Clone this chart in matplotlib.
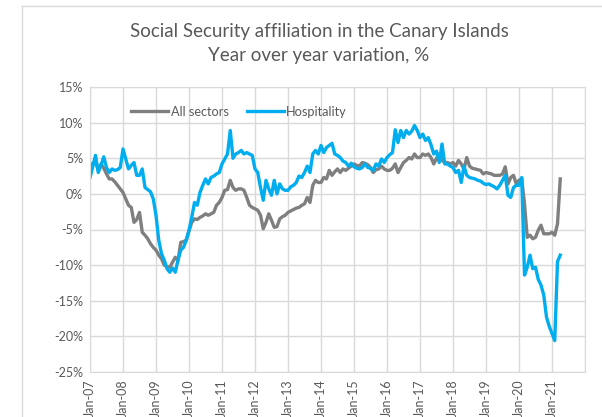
import matplotlib.pyplot as plt
from matplotlib.lines import Line2D
import numpy as np

# monthly year-over-year variation, %, Jan-07 .. Apr-21
all_sectors = [
    3.8, 4.3, 4.6, 3.3, 4.2, 3.6, 2.8, 2.1, 2.1, 1.7, 1.2, 0.7,          # 2007
    0.2, -0.7, -1.6, -1.9, -4.0, -3.6, -2.6, -5.4, -5.8, -6.3, -7.0, -7.5,  # 2008
    -7.9, -8.6, -9.1, -10.0, -10.2, -10.3, -9.6, -8.9, -9.4, -6.8, -6.7, -6.5,  # 2009
    -5.2, -4.0, -3.5, -3.6, -3.3, -3.1, -2.8, -3.0, -2.8, -2.6, -1.6, -1.2,  # 2010
    -0.5, 0.5, 0.6, 1.9, 0.9, 0.5, 0.7, 0.7, 0.5, -0.5, -1.6, -1.9,      # 2011
    -2.1, -2.3, -3.0, -4.9, -4.0, -2.8, -3.7, -4.7, -4.6, -3.5, -3.2, -3.0,  # 2012
    -2.6, -2.4, -2.2, -2.0, -1.9, -1.6, -1.4, -0.5, -1.2, 1.2, 1.9, 1.6,  # 2013
    1.6, 2.3, 2.1, 3.3, 2.6, 3.1, 3.5, 3.0, 3.5, 3.3, 3.6, 3.9,          # 2014
    4.2, 4.0, 3.9, 4.4, 4.3, 4.1, 3.7, 3.0, 3.4, 3.5, 3.9, 3.5,          # 2015
    3.3, 3.3, 3.6, 4.2, 3.0, 3.7, 4.4, 4.7, 5.1, 4.9, 5.6, 5.1,          # 2016
    5.1, 5.6, 5.4, 5.6, 5.1, 4.2, 5.0, 5.6, 4.7, 4.4, 4.4, 4.2,          # 2017
    4.4, 3.9, 4.7, 4.2, 3.5, 5.1, 3.9, 3.6, 3.5, 3.4, 3.3, 2.8,          # 2018
    3.0, 2.9, 2.8, 2.6, 2.6, 2.6, 2.8, 3.8, 1.4, 2.3, 2.6, 1.4,          # 2019
    1.9, 2.1, -1.4, -6.1, -5.8, -6.3, -6.1, -5.1, -4.4, -5.6, -5.6, -5.6,  # 2020
    -5.4, -5.8, -4.2, 2.1,                                                # 2021
]

hospitality = [
    2.3, 3.8, 5.4, 3.0, 4.0, 5.2, 3.7, 3.0, 3.5, 3.3, 3.4, 3.7,          # 2007
    6.3, 4.9, 3.5, 4.0, 4.4, 2.6, 2.6, 3.5, 0.9, 0.6, 0.3, -0.7,         # 2008
    -3.0, -6.5, -8.4, -9.3, -10.5, -11.0, -10.4, -11.0, -9.3, -7.9, -7.5, -6.5,  # 2009
    -5.1, -3.3, -1.2, -1.6, 0.2, 1.2, 2.1, 1.4, 2.3, 2.5, 2.8, 3.0,      # 2010
    4.2, 4.9, 5.6, 8.9, 5.0, 5.6, 5.8, 6.1, 5.6, 5.8, 5.6, 5.4,          # 2011
    3.5, 3.0, 0.9, -0.9, 1.9, 0.7, -0.2, 1.9, 0.0, 1.4, 0.7, 0.5,        # 2012
    0.5, 1.0, 1.2, 1.6, 2.5, 2.3, 3.0, 3.9, 3.0, 5.6, 6.1, 5.6,          # 2013
    6.8, 5.8, 6.5, 6.8, 7.1, 5.6, 5.4, 5.1, 4.6, 4.4, 3.9, 4.3,          # 2014
    3.8, 3.6, 3.5, 3.7, 4.2, 3.7, 3.6, 3.3, 4.2, 3.9, 4.9, 4.4,          # 2015
    5.1, 5.5, 5.8, 9.0, 7.2, 8.9, 7.9, 8.9, 8.4, 8.8, 9.6, 8.9,          # 2016
    7.9, 8.4, 7.5, 7.9, 6.9, 5.6, 6.0, 4.4, 7.0, 4.2, 4.2, 3.9,          # 2017
    3.7, 3.0, 3.3, 1.6, 3.9, 2.6, 2.3, 2.2, 2.1, 1.9, 1.8, 1.5,          # 2018
    1.3, 1.4, 1.2, 1.0, 0.7, 1.2, 1.9, 2.6, -0.2, -0.5, 0.9, 1.2,        # 2019
    1.2, 2.3, -11.4, -10.3, -8.6, -10.5, -10.3, -12.0, -12.8, -14.2, -17.3, -18.6,  # 2020
    -19.6, -20.6, -9.5, -8.6,                                             # 2021
]

years = list(range(2007, 2022))
tick_labels = ["Jan-%02d" % (y % 100) for y in years]
yticks = [15, 10, 5, 0, -5, -10, -15, -20, -25]

grey_txt = "#595959"
grid_col = "#D9D9D9"

plt.rcParams['font.family'] = ['Lato', 'DejaVu Sans']

fig = plt.figure(figsize=(6.02, 4.17), dpi=100)
ax = fig.add_axes([90 / 602, 1 - 372 / 417, 495 / 602, 285 / 417])

months = np.arange(len(all_sectors))
ax.plot(months, all_sectors, color="#7F7F7F", lw=2.4, label="All sectors", solid_joinstyle="round")
ax.plot(months, hospitality, color="#00AEEF", lw=2.4, label="Hospitality", solid_joinstyle="round")

ax.set_xlim(0, 180)
ax.set_ylim(-25, 15)
ax.set_xticks(np.arange(0, 181, 12))
ax.set_xticklabels(tick_labels + [""], rotation=90)
ax.set_yticks(yticks)
ax.set_yticklabels(["%d%%" % v for v in yticks])
ax.tick_params(length=0, labelsize=9, colors=grey_txt, pad=5)
ax.grid(True, color=grid_col, lw=1)
ax.set_axisbelow(True)
for s in ax.spines.values():
    s.set_color(grid_col)

ax.legend(loc="upper left", bbox_to_anchor=(0.06, 0.975), ncol=2, frameon=False,
          fontsize=9.2, labelcolor=grey_txt, handlelength=2.9, handletextpad=0.2,
          columnspacing=1.4)

fig.text(319 / 602, 1 - 32 / 417, "Social Security affiliation in the Canary Islands",
         ha="center", va="center", fontsize=13.5, color=grey_txt)
fig.text(319 / 602, 1 - 55 / 417, "Year over year variation, %",
         ha="center", va="center", fontsize=13.5, color=grey_txt)

# chart frame
fig.add_artist(Line2D([22 / 602, 22 / 602], [0, 1 - 6 / 417], color=grid_col, lw=1))
fig.add_artist(Line2D([22 / 602, 1], [1 - 6 / 417, 1 - 6 / 417], color=grid_col, lw=1))

fig.savefig("out.png", dpi=100)
